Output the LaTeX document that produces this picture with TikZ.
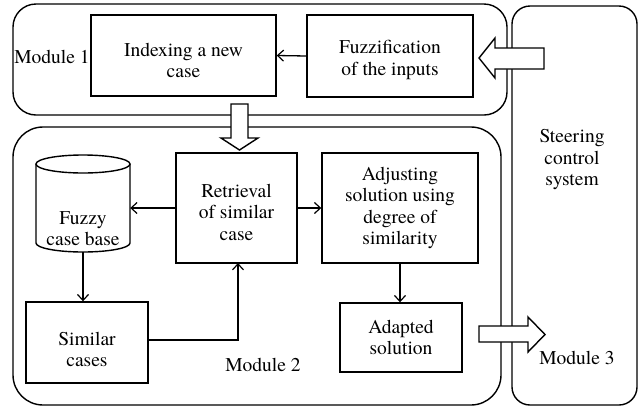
\documentclass[tikz,border=0pt]{standalone}
\usepackage{fontspec}
\IfFontExistsTF{texgyretermes-regular.otf}
  {\setmainfont{texgyretermes-regular.otf}}
  {\setmainfont{Liberation Serif}}
\usetikzlibrary{arrows.meta}
\begin{document}
\begin{tikzpicture}[x=1pt,y=-1pt,
  every node/.style={font=\rmfamily\fontsize{19.5}{21.5}\selectfont, align=center, inner sep=0pt},
  box/.style={draw, line width=1.4pt, rectangle},
  module/.style={draw, line width=1.4pt},
  conn/.style={line width=1.3pt, -{Straight Barb[length=6pt,width=11pt,line width=1.2pt]}},
  hollow/.style={draw, fill=white, line width=1.4pt, line join=miter}
]
\useasboundingbox (0,0) rectangle (642,408);
% module frames
\draw[module, rounded corners=23pt] (13,4) rectangle (507,115);
\draw[module, rounded corners=30pt] (13,127) rectangle (501,405);
\draw[module, rounded corners=18pt] (512,6) rectangle (637,405);
% nodes
\node[box, minimum width=185pt, minimum height=81pt, label={[yshift=-5pt]center:{Indexing a new\\case}}] (idx) at (183.5,55.5) {};
\node[box, minimum width=166pt, minimum height=82pt, label={[yshift=-4pt]center:{Fuzzification\\of the inputs}}] (fuz) at (390,56) {};
\node (m1) at (52,57) {Module 1};
% cylinder
\draw[line width=1.4pt] (36,164) -- (36,243) arc[start angle=180, end angle=360, x radius=47pt, y radius=9pt] -- (130,164);
\draw[line width=1.4pt] (83,164) ellipse[x radius=47pt, y radius=9pt];
\node[minimum width=94pt, minimum height=97pt, label={[yshift=-25pt]center:{Fuzzy\\case base}}] (cyl) at (83,203.5) {};
\node[box, minimum width=121pt, minimum height=110pt, label={[yshift=-4pt]center:{Retrieval\\of similar\\case}}] (ret) at (236.5,208) {};
\node[box, minimum width=156pt, minimum height=110pt] (adj) at (400,208) {Adjusting\\solution using\\degree of\\similarity};
\node[box, minimum width=122pt, minimum height=81pt, label={[yshift=-7pt]center:{Similar\\cases}}] (sim) at (87,342.5) {};
\node[box, minimum width=122pt, minimum height=69pt] (ada) at (401,337.5) {Adapted\\solution};
\node (m2) at (263,365) {Module 2};
\node (m3) at (577,358) {Module 3};
\node (scs) at (572,160) {Steering\\control\\system};
% connectors
\draw[conn] (fuz.west) -- (idx.east);
\draw[conn] (ret.west) -- (cyl.east |- ret.west);
\draw[conn] (ret.east) -- (adj.west);
\draw[conn] (cyl.south) -- (cyl.south |- sim.north);
\draw[conn] (sim.east |- 0,340) -| (238,263);
\draw[conn] (adj.south) -- (adj.south |- ada.north);
% hollow arrows
\draw[hollow] (544,48) -- (495,48) -- (495,38) -- (479,58) -- (495,78) -- (495,69) -- (544,69) -- cycle;
\draw[hollow] (231,104) -- (248,104) -- (248,138) -- (258,138) -- (239.5,150) -- (221,138) -- (231,138) -- cycle;
\draw[hollow] (479,326) -- (528,326) -- (528,317) -- (545,334.5) -- (528,352) -- (528,342) -- (479,342) -- cycle;
\end{tikzpicture}
\end{document}
